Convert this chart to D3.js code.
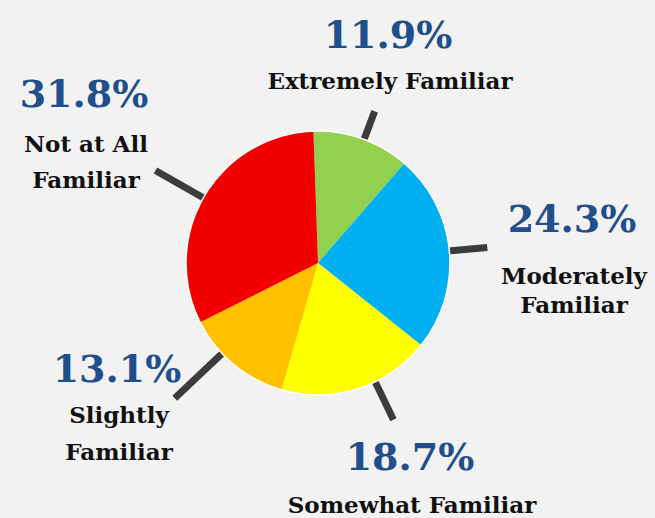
<!DOCTYPE html>
<html lang="en">
<head>
<meta charset="utf-8">
<title>Familiarity</title>
<script src="https://cdn.jsdelivr.net/npm/d3@7"></script>
<style>
  html, body { margin: 0; padding: 0; background: #f2f2f2; }
</style>
</head>
<body>
<script>
    // data
    var categories = ["Extremely Familiar", "Moderately Familiar", "Somewhat Familiar", "Slightly Familiar", "Not at All Familiar"];
    var values = [11.9, 24.3, 18.7, 13.1, 31.8];
    var colors = ["#92d050", "#00b0f0", "#ffff00", "#ffc000", "#f20000"];
    // label text, split into lines
    var labelLines = [["Extremely Familiar"], ["Moderately", "Familiar"], ["Somewhat Familiar"], ["Slightly", "Familiar"], ["Not at All", "Familiar"]];

    var w = 655, h = 518;
    var cx = 318, cy = 263, r = 132;

    // label layout: anchor x, baseline of percent, offset of name lines, line gap, leader tweak (deg) and length
    var layout = [
        {x: 388, y: 48, dy: 41, gap: 36, lead: 1, len: 30},
        {x: 572, y: 232, dy: 52, gap: 29, lead: 0, len: 38},
        {x: 410, y: 470, dy: 43, gap: 36, lead: -8, len: 42},
        {x: 117, y: 382, dy: 41, gap: 37, lead: 7, len: 65},
        {x: 84, y: 107, dy: 45, gap: 36, lead: -1, len: 55}
    ];

    var svg = d3.select("body")
            .append("svg")
            .attr("width", w)
            .attr("height", h);

    var pie = d3.pie()
            .sort(null)
            .startAngle(-2 * Math.PI / 180)
            .endAngle(2 * Math.PI - 2 * Math.PI / 180);

    var arcs = pie(values);
    var arc = d3.arc().innerRadius(0).outerRadius(r);

    var g = svg.append("g").attr("transform", "translate(" + cx + "," + cy + ")");

    function leadAngle(d, i) {
        return (d.startAngle + d.endAngle) / 2 + layout[i].lead * Math.PI / 180;
    }

    // leader lines, radial from the slice edge
    g.selectAll("line")
            .data(arcs)
            .enter()
            .append("line")
            .attr("x1", function (d, i) { return Math.sin(leadAngle(d, i)) * (r - 4); })
            .attr("y1", function (d, i) { return -Math.cos(leadAngle(d, i)) * (r - 4); })
            .attr("x2", function (d, i) { return Math.sin(leadAngle(d, i)) * (r + layout[i].len); })
            .attr("y2", function (d, i) { return -Math.cos(leadAngle(d, i)) * (r + layout[i].len); })
            .attr("stroke", "#3c3c3c")
            .attr("stroke-width", 7);

    g.selectAll("path")
            .data(arcs)
            .enter()
            .append("path")
            .attr("d", arc)
            .attr("fill", function (d, i) {
                return colors[i];
            });

    // thin light rim
    g.append("circle")
            .attr("r", r)
            .attr("fill", "none")
            .attr("stroke", "#ffffff")
            .attr("stroke-width", 1.5);

    // percentages
    svg.selectAll("text.pct")
            .data(values)
            .enter()
            .append("text")
            .attr("class", "pct")
            .attr("x", function (d, i) { return layout[i].x; })
            .attr("y", function (d, i) { return layout[i].y; })
            .attr("text-anchor", "middle")
            .attr("font-family", "DejaVu Serif")
            .attr("font-weight", "bold")
            .attr("font-size", "38px")
            .attr("fill", "#214f8b")
            .text(function (d) { return d.toFixed(1) + "%"; });

    // category names
    labelLines.forEach(function (lines, i) {
        var t = svg.append("text")
                .attr("text-anchor", "middle")
                .attr("font-family", "DejaVu Serif")
                .attr("font-weight", "bold")
                .attr("font-size", "23px")
                .attr("fill", "#111");
        lines.forEach(function (s, j) {
            t.append("tspan")
                    .attr("x", layout[i].x + 2)
                    .attr("y", layout[i].y + layout[i].dy + j * layout[i].gap)
                    .text(s);
        });
    });
</script>
</body>
</html>
